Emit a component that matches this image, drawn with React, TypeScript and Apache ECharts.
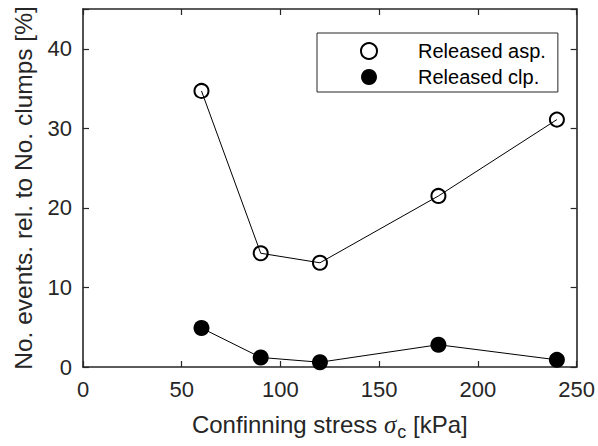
import React, { useEffect, useRef } from "react";
import * as echarts from "echarts";

const stress = [60, 90, 120, 180, 240];
const releasedAsp = [34.7, 14.3, 13.1, 21.5, 31.1];
const releasedClp = [4.9, 1.2, 0.6, 2.8, 0.9];
const xTicks = [0, 50, 100, 150, 200, 250];
const yTicks = [0, 10, 20, 30, 40];
const seriesNames = ["Released asp.", "Released clp."];

const INK = "#262626";
const FONT = "Liberation Sans, Arial, sans-serif";

export default function App() {
  const ref = useRef<HTMLDivElement>(null);
  useEffect(() => {
    if (!ref.current) return;
    const chart = echarts.init(ref.current, undefined, { renderer: "svg" });
    const axisCommon = {
      axisLine: { show: true, onZero: false, lineStyle: { color: INK, width: 1.6 } },
      axisTick: { show: true, inside: true, length: 6, lineStyle: { color: INK, width: 1.2 } },
      splitLine: { show: false },
    };
    chart.setOption({
      animation: false,
      backgroundColor: "#fff",
      textStyle: { fontFamily: FONT },
      grid: { left: 83, right: 19, top: 9, bottom: 73, containLabel: false },
      legend: {
        orient: "vertical",
        left: 317,
        top: 33,
        backgroundColor: "#fff",
        borderColor: INK,
        borderWidth: 1,
        borderRadius: 0,
        padding: [8, 12, 5, 43],
        itemWidth: 16,
        itemHeight: 16,
        itemGap: 6,
        selectedMode: false,
        textStyle: { fontFamily: FONT, fontSize: 20, color: "#000", padding: [0, 0, 0, 36] },
        data: [
          { name: seriesNames[0], icon: "circle", itemStyle: { color: "#fff", borderColor: "#000", borderWidth: 2 } },
          { name: seriesNames[1], icon: "circle", itemStyle: { color: "#000", borderWidth: 0 } },
        ],
      },
      xAxis: [
        {
          type: "value",
          position: "bottom",
          min: xTicks[0],
          max: xTicks[xTicks.length - 1],
          interval: 50,
          ...axisCommon,
          axisLabel: { color: INK, fontSize: 22, margin: 11, fontFamily: FONT },
          name: "{a|Confinning stress }{s|σ}{sub|c}{a| [kPa]}",
          nameLocation: "middle",
          nameGap: 40,
          nameTextStyle: {
            color: INK,
            rich: {
              a: { fontSize: 24, fontFamily: FONT, color: INK },
              s: { fontSize: 25, fontFamily: "Liberation Serif, serif", fontStyle: "italic", color: INK },
              sub: { fontSize: 18, fontFamily: FONT, color: INK, padding: [16, 0, 0, 1] },
            },
          },
        },
        {
          type: "value",
          position: "top",
          min: xTicks[0],
          max: xTicks[xTicks.length - 1],
          interval: 50,
          ...axisCommon,
          axisLabel: { show: false },
        },
      ],
      yAxis: [
        {
          type: "value",
          position: "left",
          min: yTicks[0],
          max: 45,
          interval: 10,
          ...axisCommon,
          axisLabel: {
            color: INK,
            fontSize: 22,
            margin: 11,
            fontFamily: FONT,
            formatter: (v: number) => (yTicks.includes(v) ? String(v) : ""),
          },
          name: "No. events. rel. to No. clumps [%]",
          nameLocation: "middle",
          nameGap: 47,
          nameTextStyle: { color: INK, fontSize: 24.5, fontFamily: FONT },
        },
        {
          type: "value",
          position: "right",
          min: yTicks[0],
          max: 45,
          interval: 10,
          ...axisCommon,
          axisLabel: { show: false },
        },
      ],
      series: [
        {
          name: seriesNames[0],
          type: "line",
          data: stress.map((x, i) => [x, releasedAsp[i]]),
          symbol: "circle",
          symbolSize: 14,
          itemStyle: { color: "rgba(0,0,0,0)", borderColor: "#000", borderWidth: 2 },
          lineStyle: { color: "#000", width: 1 },
          z: 3,
        },
        {
          name: seriesNames[1],
          type: "line",
          data: stress.map((x, i) => [x, releasedClp[i]]),
          symbol: "circle",
          symbolSize: 16,
          itemStyle: { color: "#000", borderWidth: 0 },
          lineStyle: { color: "#000", width: 1 },
          z: 3,
        },
      ],
    });
    return () => chart.dispose();
  }, []);
  return <div ref={ref} style={{ width: 598, height: 446, position: "absolute", left: 0, top: 0 }} />;
}
